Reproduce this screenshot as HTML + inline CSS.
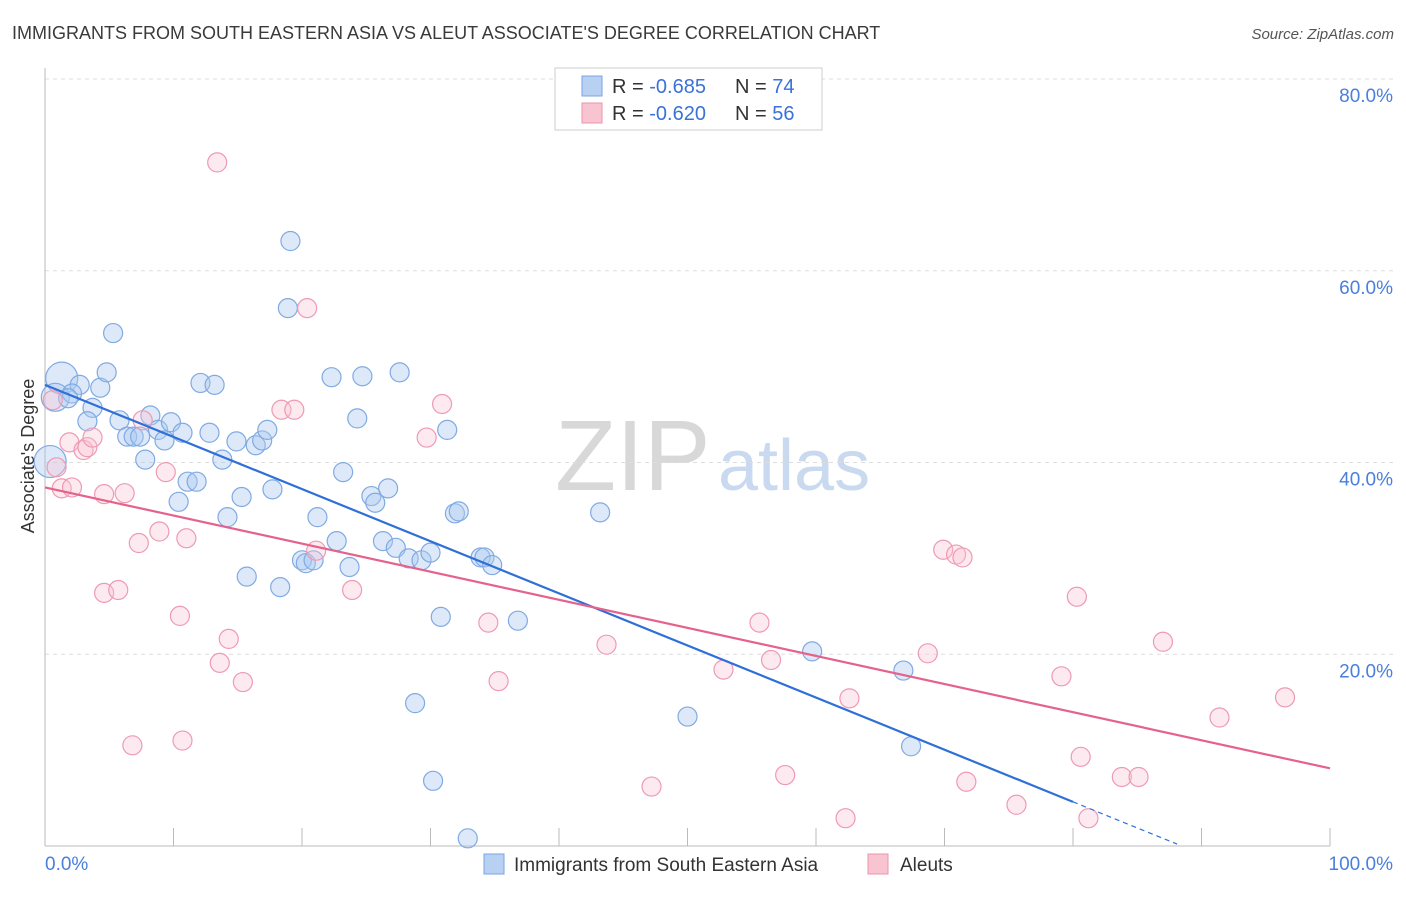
<!DOCTYPE html>
<html><head><meta charset="utf-8"><style>
body{margin:0;background:#fff;font-family:"Liberation Sans",sans-serif;}
svg text{font-family:"Liberation Sans",sans-serif;}
</style></head><body>
<svg id="chart" width="1406" height="892" xmlns="http://www.w3.org/2000/svg">
<text x="12" y="39" font-size="18" fill="#3a3a3a">IMMIGRANTS FROM SOUTH EASTERN ASIA VS ALEUT ASSOCIATE'S DEGREE CORRELATION CHART</text>
<text x="1394" y="39" font-size="15" fill="#555" font-style="italic" text-anchor="end">Source: ZipAtlas.com</text>
<g>
<text x="555" y="490" font-size="100" fill="#d8d8d8" font-family="Liberation Serif,serif">ZIP</text>
<text x="718" y="490" font-size="72" fill="#c9d9ef">atlas</text>
</g>
<g id="grid"></g>
<g id="axes"></g>
<g id="pts"></g>
<g id="lines"></g>
<text transform="translate(34,456) rotate(-90)" font-size="18" fill="#333" text-anchor="middle">Associate's Degree</text>
<g>
<rect x="555" y="68" width="267" height="62" fill="#fff" stroke="#ccc"/>
<rect x="582" y="76" width="20" height="20" fill="#b8d0f2" stroke="#7aa6e0"/>
<rect x="582" y="103" width="20" height="20" fill="#f8c4d2" stroke="#ec93ad"/>
<text x="612" y="93" font-size="20" fill="#333">R = <tspan fill="#3a72d8">-0.685</tspan></text>
<text x="735" y="93" font-size="20" fill="#333">N = <tspan fill="#3a72d8">74</tspan></text>
<text x="612" y="120" font-size="20" fill="#333">R = <tspan fill="#3a72d8">-0.620</tspan></text>
<text x="735" y="120" font-size="20" fill="#333">N = <tspan fill="#3a72d8">56</tspan></text>
</g>
<g>
<rect x="484" y="854" width="20" height="20" fill="#b8d0f2" stroke="#7aa6e0"/>
<text x="514" y="871" font-size="19" fill="#333">Immigrants from South Eastern Asia</text>
<rect x="868" y="854" width="20" height="20" fill="#f8c4d2" stroke="#ec93ad"/>
<text x="900" y="871" font-size="19" fill="#333">Aleuts</text>
</g>
</svg>
<script>
const blueX=[1.3,0.8,0.4,2.7,2.1,1.8,4.3,4.8,5.3,3.7,3.3,5.8,6.4,6.9,7.4,7.8,8.2,8.8,9.3,9.8,10.7,10.4,11.1,11.8,12.1,13.2,12.8,13.8,14.2,14.9,15.3,15.7,16.4,16.9,17.3,17.7,18.3,18.9,19.1,20.0,20.3,20.9,21.2,22.3,22.7,23.2,23.7,24.3,24.7,25.4,25.7,26.3,26.7,27.3,27.6,28.3,29.3,30.0,30.8,31.3,31.9,32.2,28.8,30.2,32.9,33.9,34.2,34.8,36.8,43.2,50.0,59.7,66.8,67.4];
const blueY=[48.8,46.8,40.1,48.1,47.2,46.7,47.8,49.4,53.5,45.7,44.3,44.4,42.7,42.7,42.7,40.3,44.9,43.4,42.3,44.2,43.1,35.9,38.0,38.0,48.3,48.1,43.1,40.3,34.3,42.2,36.4,28.1,41.8,42.3,43.4,37.2,27.0,56.1,63.1,29.8,29.5,29.8,34.3,48.9,31.8,39.0,29.1,44.6,49.0,36.5,35.8,31.8,37.3,31.1,49.4,30.0,29.8,30.6,23.9,43.4,34.7,34.9,14.9,6.8,0.8,30.1,30.1,29.3,23.5,34.8,13.5,20.3,18.3,10.4];
const blueR=[16,14,16];
const pinkX=[0.6,0.9,1.3,2.1,1.9,3.0,3.3,3.7,4.6,5.7,4.6,6.2,6.8,7.3,7.6,8.9,9.4,10.5,10.7,11.0,13.4,13.6,14.3,15.4,18.4,19.4,20.4,21.1,23.9,29.7,30.9,34.5,35.3,43.7,47.2,52.8,55.6,56.5,57.6,62.3,62.6,68.7,69.9,70.9,71.4,71.7,75.6,79.1,80.3,80.6,81.2,83.8,85.1,87.0,91.4,96.5];
const pinkY=[46.5,39.5,37.3,37.4,42.1,41.3,41.6,42.6,26.4,26.7,36.7,36.8,10.5,31.6,44.4,32.8,39.0,24.0,11.0,32.1,71.3,19.1,21.6,17.1,45.5,45.5,56.1,30.8,26.7,42.6,46.1,23.3,17.2,21.0,6.2,18.4,23.3,19.4,7.4,2.9,15.4,20.1,30.9,30.4,30.1,6.7,4.3,17.7,26.0,9.3,2.9,7.2,7.2,21.3,13.4,15.5];
const blueTrend=[48.1,-0.5437];
const pinkTrend=[37.4,-0.293];
const yTicks=[20,40,60,80];
const yTickLabels=["20.0%","40.0%","60.0%","80.0%"];
const xTicks=[0,10,20,30,40,50,60,70,80,90,100];

const NS="http://www.w3.org/2000/svg";
const X=v=>45+v*12.85, Y=v=>846-v*9.5875;
function mk(p,tag,a){const e=document.createElementNS(NS,tag);for(const k in a)e.setAttribute(k,a[k]);document.getElementById(p).appendChild(e);return e;}
yTicks.forEach((t,i)=>{
 const l=mk('grid','line',{x1:45,x2:1394,y1:Y(t),y2:Y(t),stroke:'#ddd','stroke-dasharray':'4,4'});
 
 
 const tx=mk('grid','text',{x:1393,y:Y(t)+23,'font-size':19,fill:'#4a7fdc','text-anchor':'end'});
 tx.textContent=yTickLabels[i];
 
 
});
mk('axes','line',{x1:45,x2:45,y1:68,y2:846,stroke:'#bbb'});
mk('axes','line',{x1:45,x2:1330,y1:846,y2:846,stroke:'#bbb'});
xTicks.forEach(t=>{
 const tk=mk('axes','line',{x1:X(t),x2:X(t),y1:828,y2:846,stroke:'#bbb'});
 
 
});
const x0=mk('axes','text',{x:45,y:870,'font-size':19,fill:'#4a7fdc'});x0.textContent='0.0%';


const x1=mk('axes','text',{x:1393,y:870,'font-size':19,fill:'#4a7fdc','text-anchor':'end'});x1.textContent='100.0%';


blueX.forEach((v,i)=>{
 const c=mk('pts','circle',{cx:X(v),cy:Y(blueY[i]),r:blueR[i]||9.5,fill:'rgba(170,200,240,0.4)',stroke:'#80aae2','stroke-width':1.2});
 
 
});
pinkX.forEach((v,i)=>{
 const c=mk('pts','circle',{cx:X(v),cy:Y(pinkY[i]),r:9.5,fill:'rgba(248,195,212,0.35)',stroke:'#ee9ab2','stroke-width':1.2});
 
 
});
const bl=mk('lines','line',{x1:X(0),y1:Y(blueTrend[0]),x2:X(80),y2:Y(blueTrend[0]+blueTrend[1]*80),stroke:'#2f6fd8','stroke-width':2.2});


const bd=mk('lines','line',{x1:X(80),y1:Y(blueTrend[0]+blueTrend[1]*80),x2:X(88.1),y2:Y(blueTrend[0]+blueTrend[1]*88.1),stroke:'#2f6fd8','stroke-width':1.2,'stroke-dasharray':'5,4'});


const pl=mk('lines','line',{x1:X(0),y1:Y(pinkTrend[0]),x2:X(100),y2:Y(pinkTrend[0]+pinkTrend[1]*100),stroke:'#e4628c','stroke-width':2.2});


</script>
</body></html>
